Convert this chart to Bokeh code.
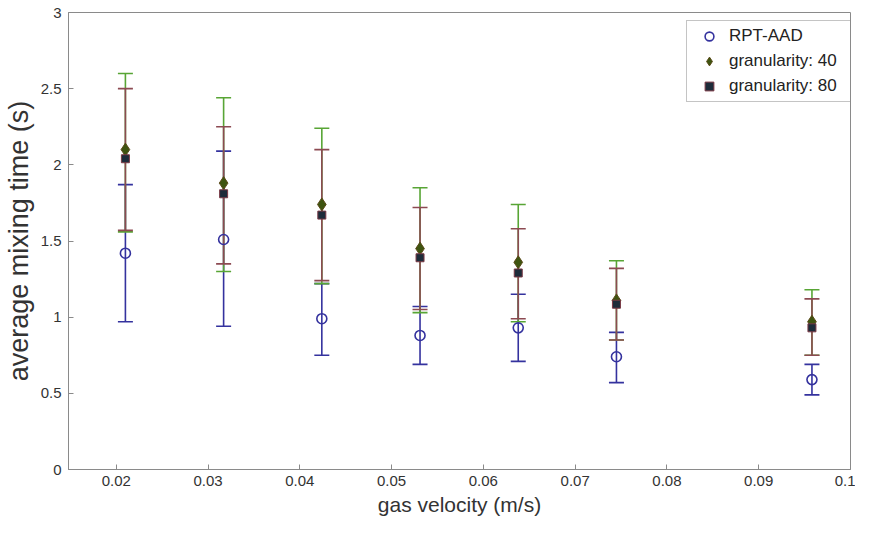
from bokeh.plotting import figure
from bokeh.models import (ColumnDataSource, Whisker, TeeHead, Legend, LegendItem,
                          FixedTicker, Range1d)
from bokeh.embed import file_html
from bokeh.resources import INLINE

# ---- data ----
gas_velocity = [0.021, 0.0317, 0.0424, 0.0531, 0.0638, 0.0745, 0.0958]

rpt_mean = [1.42, 1.51, 0.99, 0.88, 0.93, 0.74, 0.59]
rpt_low = [0.97, 0.94, 0.75, 0.69, 0.71, 0.57, 0.49]
rpt_high = [1.87, 2.09, 1.22, 1.07, 1.15, 0.90, 0.69]

g40_mean = [2.10, 1.88, 1.74, 1.45, 1.36, 1.11, 0.97]
g40_low = [1.56, 1.30, 1.22, 1.03, 0.97, 0.85, 0.75]
g40_high = [2.60, 2.44, 2.24, 1.85, 1.74, 1.37, 1.18]

g80_mean = [2.04, 1.81, 1.67, 1.39, 1.29, 1.085, 0.93]
g80_low = [1.57, 1.35, 1.24, 1.05, 0.99, 0.85, 0.75]
g80_high = [2.50, 2.25, 2.10, 1.72, 1.58, 1.32, 1.12]

series_names = ["RPT-AAD", "granularity: 40", "granularity: 80"]

x_ticks = [0.02, 0.03, 0.04, 0.05, 0.06, 0.07, 0.08, 0.09, 0.1]
x_tick_labels = ["0.02", "0.03", "0.04", "0.05", "0.06", "0.07", "0.08", "0.09", "0.1"]
y_ticks = [0, 0.5, 1, 1.5, 2, 2.5, 3]
y_tick_labels = ["0", "0.5", "1", "1.5", "2", "2.5", "3"]

FONT = "Liberation Sans"
AXIS_GREY = "#8a8a8a"
TEXT = "#333333"

p = figure(width=855, height=519, output_backend="svg", toolbar_location=None,
           x_range=Range1d(0.0148, 0.1), y_range=Range1d(0, 3),
           min_border_left=61, min_border_right=5, min_border_top=12, min_border_bottom=50)
p.xgrid.visible = False
p.ygrid.visible = False
p.outline_line_color = AXIS_GREY
p.background_fill_color = "white"
p.border_fill_color = "white"

def style_axis(ax, ticks, labels):
    ax.ticker = FixedTicker(ticks=ticks)
    ax.major_label_overrides = {t: l for t, l in zip(ticks, labels)}
    ax.minor_tick_line_color = None
    ax.major_tick_in = 5
    ax.major_tick_out = 0
    ax.axis_line_color = AXIS_GREY
    ax.major_tick_line_color = AXIS_GREY
    ax.major_label_text_font = FONT
    ax.major_label_text_color = TEXT
    ax.major_label_text_font_size = "15px"

style_axis(p.xaxis[0], x_ticks, x_tick_labels)
style_axis(p.yaxis[0], y_ticks, y_tick_labels)
p.xaxis[0].major_label_standoff = 6
p.yaxis[0].major_label_standoff = 7
p.xaxis[0].axis_label = "gas velocity (m/s)"
p.yaxis[0].axis_label = "average mixing time (s)"
for ax, size, so in ((p.xaxis[0], "21px", 4), (p.yaxis[0], "27px", 4)):
    ax.axis_label_text_font = FONT
    ax.axis_label_text_font_size = size
    ax.axis_label_text_font_style = "normal"
    ax.axis_label_text_color = TEXT
    ax.axis_label_standoff = so

def add_series(mean, low, high, bar_color):
    src = ColumnDataSource(dict(x=gas_velocity, y=mean, lo=low, hi=high))
    w = Whisker(base="x", upper="hi", lower="lo", source=src, dimension="height",
                line_color=bar_color, line_width=1.6,
                upper_head=TeeHead(size=15, line_color=bar_color, line_width=1.6),
                lower_head=TeeHead(size=15, line_color=bar_color, line_width=1.6))
    p.add_layout(w)
    return src

src_rpt = add_series(rpt_mean, rpt_low, rpt_high, "#34329e")
src_g40 = add_series(g40_mean, g40_low, g40_high, "#58a535")
src_g80 = add_series(g80_mean, g80_low, g80_high, "#8c4a52")

r_rpt = p.scatter("x", "y", source=src_rpt, marker="circle", size=10,
                  fill_color="white", fill_alpha=0, line_color="#34329e", line_width=1.6)
r_g40 = p.scatter("x", "y", source=src_g40, marker="diamond", size=13,
                  fill_color="#3e5410", line_color="#5a4a18", line_width=1)
r_g80 = p.scatter("x", "y", source=src_g80, marker="square", size=8,
                  fill_color="#1d2c3a", line_color="#7a3a46", line_width=1)

legend = Legend(items=[LegendItem(label=series_names[0], renderers=[r_rpt]),
                       LegendItem(label=series_names[1], renderers=[r_g40]),
                       LegendItem(label=series_names[2], renderers=[r_g80])],
                location=(618, 367), margin=0, padding=4, spacing=3,
                glyph_width=36, glyph_height=22, label_height=22, label_width=127,
                label_standoff=2, label_text_font=FONT, label_text_font_size="17px",
                label_text_color="#222222", border_line_color=AXIS_GREY,
                border_line_width=1, background_fill_color="white", background_fill_alpha=1)
p.add_layout(legend, "center")

open("out.html", "w").write(file_html(p, INLINE))
